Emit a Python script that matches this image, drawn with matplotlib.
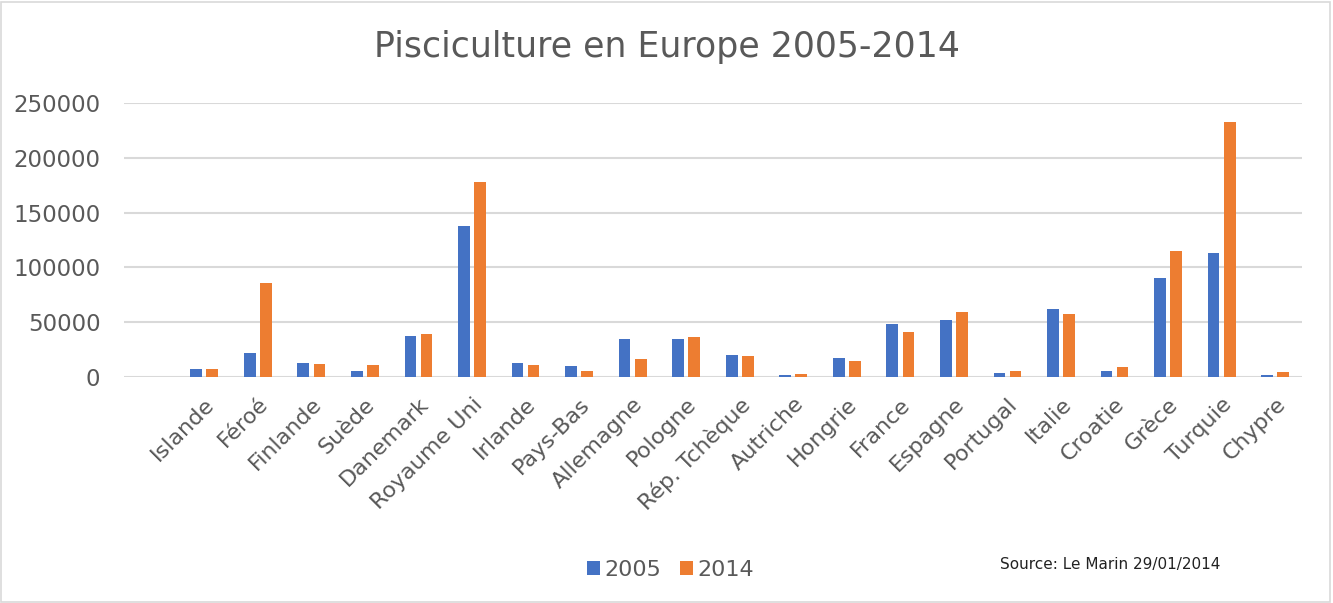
import matplotlib.pyplot as plt
import numpy as np
from matplotlib.patches import Rectangle

# data (tonnes)
pays = ['', 'Islande', 'Féroé', 'Finlande', 'Suède', 'Danemark', 'Royaume Uni',
        'Irlande', 'Pays-Bas', 'Allemagne', 'Pologne', 'Rép. Tchèque', 'Autriche',
        'Hongrie', 'France', 'Espagne', 'Portugal', 'Italie', 'Croatie', 'Grèce',
        'Turquie', 'Chypre']
prod_2005 = [np.nan, 8000, 22000, 13000, 5500, 38000, 138000,
             13000, 10000, 34500, 34500, 20000, 2500,
             17500, 48500, 52500, 4000, 62000, 6000, 90000,
             113500, 1800]
prod_2014 = [np.nan, 8000, 86000, 12000, 11000, 39000, 178000,
             11000, 5500, 16500, 37000, 19000, 3000,
             14500, 41500, 59000, 5500, 58000, 9500, 115000,
             232000, 4500]

grey = '#595959'
plt.rcParams['font.family'] = ['DejaVu Sans']

fig = plt.figure(figsize=(13.33, 6.03), dpi=100)
fig.patches.append(Rectangle((0.001, 0.002), 0.997, 0.995, transform=fig.transFigure,
                             fill=False, edgecolor='#d9d9d9', linewidth=1.2))
ax = fig.add_axes([0.093, 0.3743, 0.8837, 0.4554])

x = np.arange(len(pays))
w = 0.22
ax.bar(x - 0.15, prod_2005, w, color='#4472c4', label='2005')
ax.bar(x + 0.15, prod_2014, w, color='#ed7d31', label='2014')

ax.set_xlim(-0.5, len(pays) - 0.5)
ax.set_ylim(0, 250000)
ax.set_yticks(range(0, 250001, 50000))
ax.grid(axis='y', color='#d9d9d9', linewidth=1.5)
ax.set_axisbelow(True)
for s in ax.spines.values():
    s.set_visible(False)
ax.tick_params(length=0, colors=grey, labelsize=16)
ax.tick_params(axis='y', pad=17, labelsize=16.5)
ax.set_xticks(x)
ax.set_xticklabels(pays, rotation=45, ha='right', rotation_mode='anchor')
ax.tick_params(axis='x', pad=12)

fig.text(0.5, 0.922, 'Pisciculture en Europe 2005-2014', ha='center', va='center',
         fontsize=25, color=grey)
fig.legend(loc='center', bbox_to_anchor=(0.503, 0.055), ncol=2, frameon=False,
           fontsize=16, labelcolor=grey, handlelength=0.6, handleheight=0.6,
           handletextpad=0.2, columnspacing=0.8)
fig.text(0.75, 0.064, 'Source: Le Marin 29/01/2014', ha='left', va='center',
         fontsize=11, color='#222222')

fig.savefig('out.png', dpi=100)
